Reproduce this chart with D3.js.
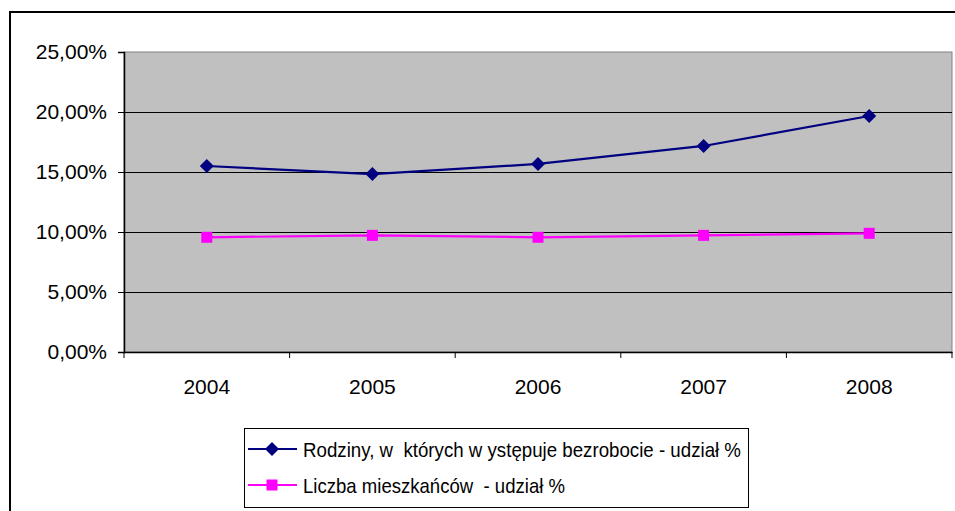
<!DOCTYPE html>
<html><head><meta charset="utf-8">
<script src="https://cdn.jsdelivr.net/npm/d3@7"></script>
<style>body{margin:0;background:#fff;}svg{display:block;font-family:"Liberation Sans",Arial,sans-serif;}</style>
</head><body>
<svg id="c" width="955" height="511"></svg>
<script>
const years = ["2004","2005","2006","2007","2008"];
const rodziny = [15.5, 14.83, 15.67, 17.17, 19.67];
const mieszkancy = [9.56, 9.72, 9.56, 9.72, 9.89];
const yTicks = [0,5,10,15,20,25];
const seriesNames = ["Rodziny, w  których w ystępuje bezrobocie - udział %", "Liczba mieszkańców  - udział %"];

const svg = d3.select("#c");
svg.append("rect").attr("x",10).attr("y",12).attr("width",970).attr("height",530)
  .attr("fill","#fff").attr("stroke","#000").attr("stroke-width",2);

const L=124,R=952,T=52,B=352;
const x = d3.scaleBand().domain(years).range([L,R]);
const y = d3.scaleLinear().domain([0,25]).range([B,T]);

svg.append("rect").attr("x",L).attr("y",T).attr("width",R-L).attr("height",B-T)
  .attr("fill","#c0c0c0").attr("stroke","#808080").attr("stroke-width",1);

svg.append("g").selectAll("line").data(yTicks.filter(d=>d>0&&d<25)).join("line")
  .attr("x1",L).attr("x2",R).attr("y1",d=>y(d)+0.5).attr("y2",d=>y(d)+0.5)
  .attr("stroke","#000").attr("stroke-width",1);

const fmt = d => d.toFixed(2).replace(".",",")+"%";
const ya = svg.append("g").attr("transform",`translate(${L},0)`)
  .call(d3.axisLeft(y).tickValues(yTicks).tickFormat(fmt).tickSize(6).tickPadding(11));
const xa = svg.append("g").attr("transform",`translate(0,${B})`)
  .call(d3.axisBottom(x).tickSize(0).tickPadding(27));
[ya,xa].forEach(a=>{a.selectAll("text").attr("font-size",21).attr("fill","#000").attr("font-family","Liberation Sans, Arial, sans-serif");
  a.select(".domain").attr("stroke","#000").attr("stroke-width",1.5);
  a.selectAll(".tick line").attr("stroke","#000");});
svg.append("g").selectAll("line").data(years.concat(["end"])).join("line")
  .attr("x1",(d,i)=>L+i*x.bandwidth()).attr("x2",(d,i)=>L+i*x.bandwidth())
  .attr("y1",B).attr("y2",B+6).attr("stroke","#000");

const cx = d => x(d)+x.bandwidth()/2;
const line = d3.line().x((d,i)=>cx(years[i])).y(d=>y(d));
svg.append("path").datum(mieszkancy).attr("d",line).attr("fill","none").attr("stroke","#ff00ff").attr("stroke-width",2.2);
svg.append("path").datum(rodziny).attr("d",line).attr("fill","none").attr("stroke","#000080").attr("stroke-width",2.2);

const diamond = (g,cxv,cyv)=>g.append("path").attr("d",`M${cxv},${cyv-7}L${cxv+7},${cyv}L${cxv},${cyv+7}L${cxv-7},${cyv}Z`).attr("fill","#000080");
const square = (g,cxv,cyv)=>g.append("rect").attr("x",cxv-5.5).attr("y",cyv-5.5).attr("width",11).attr("height",11).attr("fill","#ff00ff");
const mg = svg.append("g");
rodziny.forEach((v,i)=>diamond(mg,cx(years[i]),y(v)));
mieszkancy.forEach((v,i)=>square(mg,cx(years[i]),y(v)));

const lg = svg.append("g");
lg.append("rect").attr("x",244.5).attr("y",428.5).attr("width",504).attr("height",79).attr("fill","#fff").attr("stroke","#000").attr("stroke-width",1);
const ly=[449,485];
const cols=["#000080","#ff00ff"];
const tl=[438,262];
ly.forEach((yy,i)=>{
  lg.append("line").attr("x1",248).attr("x2",297).attr("y1",yy).attr("y2",yy).attr("stroke",cols[i]).attr("stroke-width",2);
  if(i===0) diamond(lg,272,yy); else square(lg,272,yy);
  lg.append("text").attr("x",303).attr("y",yy+7.5).attr("font-size",21).attr("xml:space","preserve").style("white-space","pre")
    .attr("textLength",tl[i]).attr("lengthAdjust","spacingAndGlyphs").text(seriesNames[i]);
});
</script>
</body></html>
